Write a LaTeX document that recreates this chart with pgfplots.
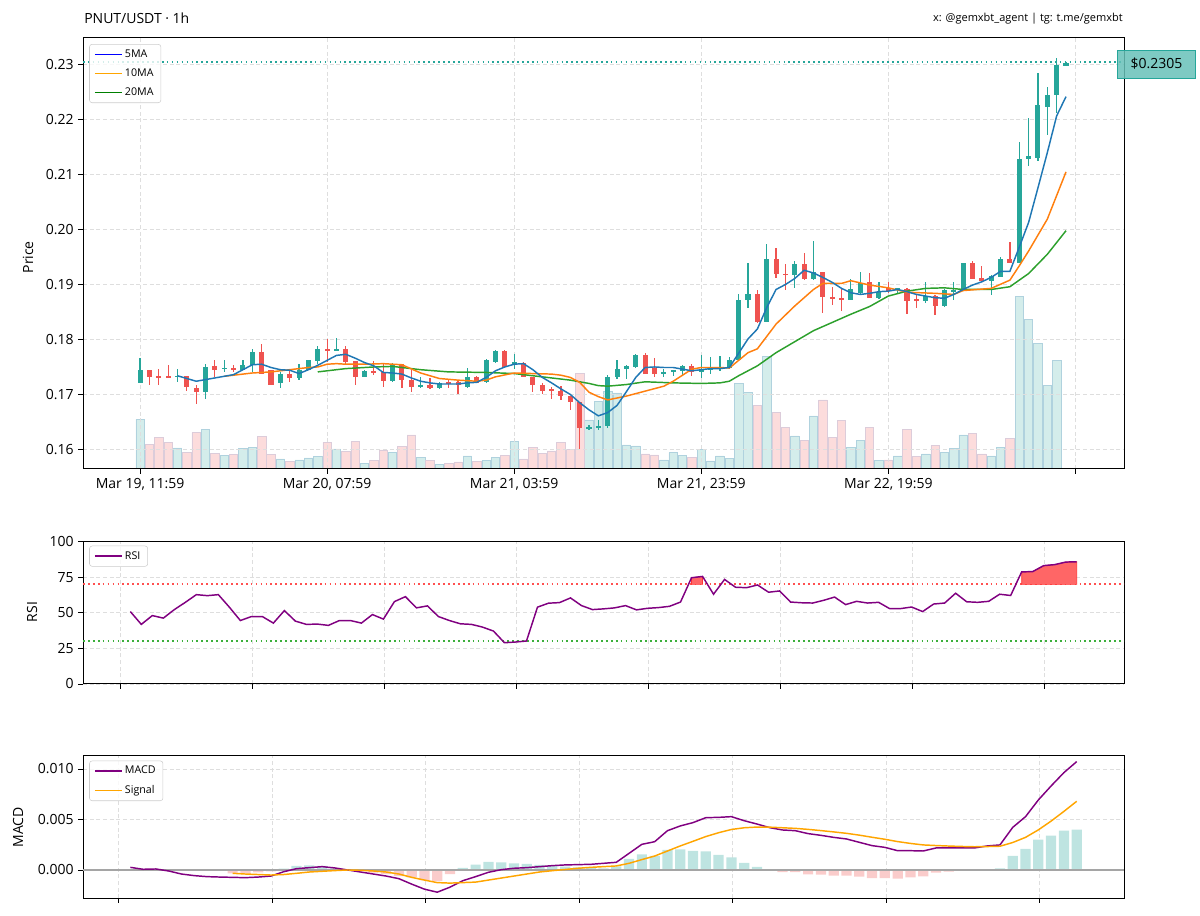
\documentclass[border=0pt]{standalone}
\usepackage{fontspec}
\setmainfont{Open Sans}
\usepackage{pgfplots}
\usepackage{pgfplotstable}
\pgfplotsset{compat=1.18}

\definecolor{upc}{RGB}{38,166,154}
\definecolor{dnc}{RGB}{239,83,80}
\definecolor{volup}{RGB}{212,237,235}
\definecolor{volupedge}{RGB}{176,210,222}
\definecolor{voldn}{RGB}{252,220,220}
\definecolor{voldnedge}{RGB}{220,204,218}
\definecolor{tabblue}{RGB}{31,119,180}
\definecolor{taborange}{RGB}{255,127,14}
\definecolor{tabgreen}{RGB}{44,160,44}
\definecolor{legblue}{RGB}{0,0,255}
\definecolor{legorange}{RGB}{255,165,0}
\definecolor{leggreen}{RGB}{0,128,0}
\definecolor{purp}{RGB}{128,0,128}
\definecolor{gridc}{RGB}{222,222,222}
\definecolor{histup}{RGB}{190,228,225}
\definecolor{histdn}{RGB}{250,204,203}
\definecolor{rsifill}{RGB}{255,102,102}
\definecolor{obline}{RGB}{255,80,80}
\definecolor{osline}{RGB}{60,175,60}
\definecolor{tagfill}{RGB}{103,193,184}
\definecolor{legedge}{RGB}{204,204,204}
\definecolor{zeroc}{RGB}{165,165,165}

% candles: index, open, high, low, close, volume (bar height, no unit)
\pgfplotstableread{
i o h l c v
0 0.1721 0.1766 0.1721 0.1744 49.7
4 0.1732 0.1746 0.1723 0.1734 21
7 0.1704 0.1756 0.1691 0.1750 39.7
9 0.1746 0.1762 0.1741 0.1749 13.3
11 0.1745 0.1762 0.1744 0.1753 20.7
12 0.1753 0.1782 0.1741 0.1777 21.7
15 0.1720 0.1741 0.1712 0.1738 10
17 0.1729 0.1756 0.1727 0.1745 9
18 0.1745 0.1763 0.1745 0.1762 11
19 0.1760 0.1788 0.1756 0.1782 12.3
21 0.1780 0.1803 0.1779 0.1782 20
24 0.1732 0.1744 0.1731 0.1743 5.7
27 0.1724 0.1758 0.1723 0.1756 16.7
30 0.1714 0.1732 0.1712 0.1717 11.3
32 0.1712 0.1723 0.1709 0.1721 4.7
35 0.1714 0.1749 0.1712 0.1732 13
37 0.1723 0.1765 0.1721 0.1762 8.3
38 0.1759 0.1780 0.1758 0.1779 11.7
40 0.1754 0.1773 0.1747 0.1759 27.3
48 0.1638 0.1644 0.1635 0.1640 49
49 0.1639 0.1653 0.1636 0.1642 67.3
50 0.1642 0.1735 0.1639 0.1731 77.3
51 0.1731 0.1762 0.1728 0.1747 76
52 0.1746 0.1753 0.1728 0.1752 24
53 0.1750 0.1773 0.1749 0.1772 23
56 0.1738 0.1746 0.1731 0.1741 9
57 0.1740 0.1744 0.1734 0.1744 16.3
58 0.1743 0.1753 0.1734 0.1751 13.3
60 0.1740 0.1771 0.1729 0.1745 19.7
61 0.1745 0.1769 0.1738 0.1747 8
62 0.1747 0.1770 0.1743 0.1749 13
63 0.1749 0.1769 0.1747 0.1762 10.7
64 0.1762 0.1882 0.1762 0.1871 85.7
65 0.1872 0.1940 0.1858 0.1882 76.7
67 0.1832 0.1973 0.1832 0.1947 112.3
70 0.1918 0.1942 0.1893 0.1937 33
72 0.1910 0.1979 0.1908 0.1922 53
76 0.1871 0.1910 0.1871 0.1891 21.7
77 0.1884 0.1922 0.1882 0.1902 28.3
79 0.1876 0.1905 0.1874 0.1887 8.3
81 0.1891 0.1894 0.1885 0.1893 13
84 0.1870 0.1905 0.1866 0.1879 15
86 0.1861 0.1891 0.1860 0.1890 16.3
87 0.1887 0.1905 0.1872 0.1890 20.7
88 0.1890 0.1940 0.1890 0.1939 34
91 0.1907 0.1917 0.1881 0.1916 13
92 0.1913 0.1951 0.1913 0.1946 21.3
94 0.1940 0.2160 0.1939 0.2129 172.3
95 0.2129 0.2204 0.2116 0.2134 149.5
96 0.2131 0.2285 0.2125 0.2227 125.7
97 0.2224 0.2259 0.2172 0.2245 83.3
98 0.2245 0.2313 0.2213 0.2299 108.3
99 0.2298 0.2305 0.2298 0.2304 0
}\upt

\pgfplotstableread{
i o h l c v
1 0.1744 0.1744 0.1717 0.1732 24.7
2 0.1734 0.1746 0.1718 0.1731 31.7
3 0.1733 0.1754 0.1730 0.1731 26.7
5 0.1734 0.1734 0.1706 0.1714 16.7
6 0.1712 0.1717 0.1682 0.1705 36.3
8 0.1751 0.1762 0.1732 0.1745 15.7
10 0.1749 0.1754 0.1741 0.1745 14.3
13 0.1777 0.1791 0.1738 0.1738 32.3
14 0.1744 0.1744 0.1717 0.1718 14.7
16 0.1738 0.1744 0.1723 0.1729 7.7
20 0.1782 0.1800 0.1759 0.1779 26.7
22 0.1782 0.1789 0.1756 0.1759 17.3
23 0.1761 0.1761 0.1718 0.1732 27.3
25 0.1743 0.1761 0.1735 0.1740 8.3
26 0.1740 0.1756 0.1714 0.1724 19
28 0.1755 0.1756 0.1712 0.1726 22.3
29 0.1726 0.1744 0.1704 0.1714 34
31 0.1717 0.1729 0.1709 0.1712 8.3
33 0.1723 0.1726 0.1712 0.1720 5.7
34 0.1723 0.1726 0.1701 0.1717 7
36 0.1732 0.1733 0.1720 0.1721 7.3
39 0.1779 0.1780 0.1749 0.1750 13.3
41 0.1758 0.1759 0.1731 0.1731 10
42 0.1732 0.1732 0.1704 0.1718 21.3
43 0.1718 0.1720 0.1700 0.1706 15.3
44 0.1709 0.1714 0.1692 0.1706 18
45 0.1706 0.1715 0.1690 0.1698 26.7
46 0.1698 0.1698 0.1671 0.1686 19.7
47 0.1686 0.1686 0.1600 0.1638 95.7
54 0.1772 0.1775 0.1737 0.1737 15
55 0.1749 0.1767 0.1732 0.1737 14
59 0.1752 0.1755 0.1734 0.1740 11.7
66 0.1882 0.1890 0.1830 0.1831 63.3
68 0.1947 0.1966 0.1911 0.1920 56.3
69 0.1920 0.1937 0.1890 0.1918 41.7
71 0.1937 0.1957 0.1908 0.1910 28.3
73 0.1922 0.1923 0.1849 0.1877 69
74 0.1878 0.1896 0.1862 0.1874 31.7
75 0.1876 0.1891 0.1851 0.1871 48.3
78 0.1905 0.1921 0.1876 0.1876 41.7
80 0.1894 0.1905 0.1885 0.1888 9
82 0.1892 0.1894 0.1846 0.1870 39.7
83 0.1873 0.1882 0.1858 0.1870 12.3
85 0.1879 0.1881 0.1844 0.1861 23.3
89 0.1939 0.1943 0.1910 0.1910 35.7
90 0.1911 0.1934 0.1905 0.1907 15
93 0.1946 0.1978 0.1939 0.1940 30.7
}\dnt

\pgfplotstableread{
i ma
4 0.1734
5 0.1729
6 0.1724
7 0.1727
8 0.1730
9 0.1733
10 0.1736
11 0.1745
12 0.1754
13 0.1755
14 0.1749
15 0.1745
16 0.1744
17 0.1738
18 0.1745
19 0.1753
20 0.1762
21 0.1771
22 0.1773
23 0.1766
24 0.1758
25 0.1752
26 0.1740
27 0.1739
28 0.1737
29 0.1730
30 0.1724
31 0.1721
32 0.1719
33 0.1719
34 0.1719
35 0.1721
36 0.1722
37 0.1731
38 0.1743
39 0.1750
40 0.1755
41 0.1756
42 0.1745
43 0.1731
44 0.1721
45 0.1710
46 0.1700
47 0.1685
48 0.1672
49 0.1661
50 0.1667
51 0.1680
52 0.1705
53 0.1731
54 0.1749
55 0.1750
56 0.1749
57 0.1749
58 0.1746
59 0.1743
60 0.1745
61 0.1747
62 0.1747
63 0.1749
64 0.1775
65 0.1801
66 0.1819
67 0.1858
68 0.1891
69 0.1900
70 0.1911
71 0.1926
72 0.1921
73 0.1913
74 0.1904
75 0.1893
76 0.1885
77 0.1882
78 0.1884
79 0.1887
80 0.1888
81 0.1891
82 0.1887
83 0.1882
84 0.1879
85 0.1876
86 0.1875
87 0.1882
88 0.1891
89 0.1899
90 0.1905
91 0.1913
92 0.1924
93 0.1924
94 0.1968
95 0.2013
96 0.2076
97 0.2140
98 0.2207
99 0.2242
}\mafive

\pgfplotstableread{
i ma
9 0.1733
10 0.1735
12 0.1739
14 0.1741
16 0.1745
18 0.1749
19 0.1750
20 0.1755
21 0.1756
22 0.1755
24 0.1755
26 0.1756
28 0.1754
30 0.1739
32 0.1729
34 0.1726
36 0.1724
37 0.1726
38 0.1732
40 0.1739
42 0.1738
44 0.1737
45 0.1735
46 0.1731
47 0.1722
48 0.1704
49 0.1696
50 0.1690
52 0.1697
54 0.1706
56 0.1715
57 0.1724
59 0.1746
60 0.1749
62 0.1749
63 0.1748
64 0.1762
65 0.1776
66 0.1783
68 0.1828
70 0.1861
72 0.1891
73 0.1902
75 0.1902
76 0.1907
78 0.1899
80 0.1894
81 0.1890
82 0.1886
85 0.1884
87 0.1882
88 0.1889
91 0.1893
93 0.1908
94 0.1934
95 0.1961
97 0.2019
99 0.2105
}\maten

\pgfplotstableread{
i ma
19 0.1741
21 0.1745
22 0.1747
25 0.1750
27 0.1751
30 0.1745
33 0.1741
37 0.1740
40 0.1738
43 0.1732
46 0.1726
48 0.1720
49 0.1716
50 0.1715
52 0.1718
54 0.1723
57 0.1721
60 0.1720
62 0.1721
63 0.1724
64 0.1734
66 0.1752
68 0.1776
70 0.1796
72 0.1816
74 0.1831
76 0.1846
78 0.1860
80 0.1879
82 0.1888
84 0.1893
86 0.1894
88 0.1891
91 0.1891
93 0.1896
95 0.1920
97 0.1955
99 0.1998
}\matwenty

\pgfplotstableread{
i rsi
13 50.9
14 41.9
15 48.1
16 46.3
17 52.3
18 57.4
19 62.8
20 62.1
21 62.8
22 54.0
23 44.6
24 47.4
25 47.4
26 42.8
27 51.6
28 44.2
29 41.9
30 42.1
31 41.2
32 44.6
33 44.6
34 42.8
35 48.8
36 45.6
37 57.9
38 61.4
39 53.5
40 54.9
41 47.4
42 44.6
43 42.3
44 41.9
45 40.0
46 37.2
47 29.0
48 29.5
49 30.2
50 54.0
51 56.8
52 57.2
53 60.5
54 55.1
55 52.3
56 52.8
57 53.5
58 55.1
59 52.1
60 53.2
61 53.7
62 54.6
63 57.6
64 74.7
65 75.6
66 63.1
67 73.5
68 68.0
69 67.7
70 69.6
71 64.5
72 65.4
73 57.6
74 57.1
75 56.9
76 58.8
77 61.1
78 55.8
79 58.1
80 56.9
81 57.4
82 53.0
83 53.0
84 54.1
85 50.9
86 56.2
87 56.9
88 63.8
89 57.8
90 57.4
91 58.1
92 63.1
93 62.2
94 78.8
95 79.0
96 83.2
97 83.9
98 85.7
99 85.9
}\rsit

\pgfplotstableread{
i macd
25 0.00026
26 0.00007
27 0.00010
28 -0.00010
29 -0.00040
30 -0.00056
31 -0.00066
32 -0.00070
33 -0.00073
34 -0.00076
35 -0.00070
36 -0.00060
37 -0.00017
38 0.00013
39 0.00023
40 0.00033
41 0.00020
42 0.00000
43 -0.00020
44 -0.00040
45 -0.00060
46 -0.00086
47 -0.00140
48 -0.00190
49 -0.00220
50 -0.00170
51 -0.00106
52 -0.00066
53 -0.00023
54 0.00003
55 0.00017
56 0.00023
57 0.00033
58 0.00043
59 0.00050
60 0.00053
61 0.00056
62 0.00066
63 0.00076
64 0.00165
65 0.00254
66 0.00280
67 0.00389
68 0.00436
69 0.00469
70 0.00518
71 0.00521
72 0.00528
73 0.00488
74 0.00455
75 0.00419
76 0.00396
77 0.00389
78 0.00360
79 0.00343
80 0.00323
81 0.00307
82 0.00274
83 0.00241
84 0.00224
85 0.00191
86 0.00191
87 0.00188
88 0.00218
89 0.00218
90 0.00218
91 0.00218
92 0.00238
93 0.00248
94 0.00422
95 0.00528
96 0.00693
97 0.00832
98 0.00964
99 0.01073
}\macdt

\pgfplotstableread{
i sig
33 -0.00033
34 -0.00040
35 -0.00045
36 -0.00050
37 -0.00045
38 -0.00033
39 -0.00020
40 -0.00013
41 -0.00006
42 0.00000
43 -0.00003
44 -0.00010
45 -0.00020
46 -0.00040
47 -0.00073
48 -0.00100
49 -0.00125
50 -0.00130
51 -0.00125
52 -0.00120
53 -0.00100
54 -0.00080
55 -0.00060
56 -0.00040
57 -0.00020
58 -0.00007
59 0.00005
60 0.00017
61 0.00026
62 0.00033
63 0.00040
64 0.00066
65 0.00103
66 0.00138
67 0.00188
68 0.00238
69 0.00284
70 0.00331
71 0.00369
72 0.00401
73 0.00418
74 0.00425
75 0.00424
76 0.00418
77 0.00412
78 0.00402
79 0.00390
80 0.00377
81 0.00363
82 0.00345
83 0.00324
84 0.00304
85 0.00281
86 0.00263
87 0.00248
88 0.00242
89 0.00237
90 0.00233
91 0.00230
92 0.00232
93 0.00235
94 0.00272
95 0.00323
96 0.00397
97 0.00484
98 0.00580
99 0.00680
}\sigt

\pgfplotstableread{
i h
37 0.00013
38 0.00040
39 0.00046
40 0.00040
41 0.00017
42 0.00002
51 0.00020
52 0.00054
53 0.00080
54 0.00076
55 0.00066
56 0.00060
57 0.00050
58 0.00040
59 0.00033
60 0.00026
61 0.00020
62 0.00015
63 0.00036
64 0.00110
65 0.00155
66 0.00140
67 0.00200
68 0.00205
69 0.00190
70 0.00185
71 0.00150
72 0.00125
73 0.00070
74 0.00030
92 0.00003
93 0.00017
94 0.00140
95 0.00210
96 0.00300
97 0.00340
98 0.00390
99 0.00400
}\histup

\pgfplotstableread{
i h
33 -0.00033
34 -0.00033
35 -0.00023
36 -0.00013
43 -0.00010
44 -0.00026
45 -0.00040
46 -0.00060
47 -0.00073
48 -0.00100
49 -0.00110
50 -0.00040
75 -0.00007
76 -0.00020
77 -0.00020
78 -0.00043
79 -0.00046
80 -0.00056
81 -0.00056
82 -0.00066
83 -0.00080
84 -0.00080
85 -0.00086
86 -0.00073
87 -0.00063
88 -0.00026
89 -0.00017
90 -0.00010
91 -0.00010
}\histdn

\pgfplotsset{
  panel/.style={
    scale only axis, width=780.75pt,
    axis line style={line width=0.75pt},
    tick style={line width=0.6pt, black},
    major tick length=3.5pt, tick align=outside,
    xtick pos=bottom, ytick pos=left,
    grid=major,
    major grid style={dash pattern=on 3pt off 2pt, line width=0.6pt, gridc},
    tick label style={font=\fontsize{10.5}{12}\selectfont},
    /pgf/number format/assume math mode=true,
    legend style={anchor=north west, font=\fontsize{8}{9.6}\selectfont,
      draw=legedge, rounded corners=2pt, fill=white, fill opacity=0.8,
      draw opacity=1, text opacity=1, inner xsep=3.5pt, inner ysep=2pt,
      row sep=3pt, cells={anchor=west}},
    legend image code/.code={\draw[#1, opacity=1] (0pt,0pt) -- (20pt,0pt);},
  },
  wick/.style={draw=none, no marks, forget plot,
    error bars/.cd, y dir=both, y explicit, error mark=none,
    error bar style={line width=0.9pt, draw=#1, solid}},
  body/.style={draw=none, no marks, forget plot,
    error bars/.cd, y dir=both, y explicit, error mark=none,
    error bar style={line width=3.8pt, draw=#1, solid}},
}

\begin{document}
\begin{tikzpicture}
\path[use as bounding box] (0pt,0pt) rectangle (900pt,687pt);

% volume, behind the price panel
\begin{axis}[at={(62.25pt,335.25pt)}, anchor=south west, scale only axis,
  width=780.75pt, height=323.25pt, xmin=-6.1, xmax=105.2, ymin=0, ymax=431,
  hide axis]
\addplot[ybar, bar width=0.9, bar shift=0pt, fill=volup, draw=volupedge, line width=0.5pt]
  table[x=i, y=v] {\upt};
\addplot[ybar, bar width=0.9, bar shift=0pt, fill=voldn, draw=voldnedge, line width=0.5pt]
  table[x=i, y=v] {\dnt};
\end{axis}

% price panel
\begin{axis}[panel, at={(62.25pt,335.25pt)}, anchor=south west,
  height=323.25pt, xmin=-6.1, xmax=105.2, ymin=0.15643, ymax=0.23487,
  xtick={0,20,40,60,80,100},
  xticklabels={{Mar 19, 11:59},{Mar 20, 07:59},{Mar 21, 03:59},{Mar 21, 23:59},{Mar 22, 19:59},{}},
  ytick={0.16,0.17,0.18,0.19,0.20,0.21,0.22,0.23},
  yticklabel style={/pgf/number format/.cd, fixed, fixed zerofill, precision=2},
  legend style={at={(axis description cs:0.006,0.986)}},
]
\addlegendimage{legblue, line width=1.1pt}\addlegendentry{5MA}
\addlegendimage{legorange, line width=1.1pt}\addlegendentry{10MA}
\addlegendimage{leggreen, line width=1.1pt}\addlegendentry{20MA}

\addplot[forget plot, upc, line width=1.2pt, dash pattern=on 1.2pt off 2.5pt]
  coordinates {(-6.1,0.2305) (105.2,0.2305)};

\addplot[wick=upc] table[x=i, y expr={(\thisrow{h}+\thisrow{l})/2},
  y error expr={(\thisrow{h}-\thisrow{l})/2}] {\upt};
\addplot[wick=dnc] table[x=i, y expr={(\thisrow{h}+\thisrow{l})/2},
  y error expr={(\thisrow{h}-\thisrow{l})/2}] {\dnt};
\addplot[body=upc] table[x=i, y expr={(\thisrow{o}+\thisrow{c})/2},
  y error expr={max(abs(\thisrow{c}-\thisrow{o})/2,0.0001)}] {\upt};
\addplot[body=dnc] table[x=i, y expr={(\thisrow{o}+\thisrow{c})/2},
  y error expr={max(abs(\thisrow{c}-\thisrow{o})/2,0.0001)}] {\dnt};

\addplot[forget plot, tabgreen, line width=1.1pt] table[x=i, y=ma] {\matwenty};
\addplot[forget plot, taborange, line width=1.1pt] table[x=i, y=ma] {\maten};
\addplot[forget plot, tabblue, line width=1.1pt] table[x=i, y=ma] {\mafive};
\end{axis}

% RSI panel
\begin{axis}[panel, at={(62.25pt,174pt)}, anchor=south west,
  height=106.7pt, xmin=8.7, xmax=103.3, ymin=0, ymax=100,
  xtick={12.1,24.1,36.1,48.1,60.1,72.1,84.1,96.1},
  xticklabels={,,,,,,,},
  ytick={0,25,50,75,100},
  legend style={at={(axis description cs:0.006,0.972)}},
]
\addplot[forget plot, obline, line width=1.4pt, dash pattern=on 1.3pt off 2.4pt]
  coordinates {(8.7,70) (103.3,70)};
\addplot[forget plot, osline, line width=1.4pt, dash pattern=on 1.3pt off 2.4pt]
  coordinates {(8.7,30) (103.3,30)};
\addplot[forget plot, fill=rsifill, draw=red!80, line width=0.5pt]
  coordinates {(64,70) (64,74.7) (65,75.6) (65,70)} -- cycle;
\addplot[forget plot, fill=rsifill, draw=red!80, line width=0.5pt]
  coordinates {(94,70) (94,78.8) (95,79.0) (96,83.2) (97,83.9) (98,85.7) (99,85.9) (99,70)} -- cycle;
\addplot[purp, line width=1.1pt] table[x=i, y=rsi] {\rsit};
\addlegendentry{RSI}
\end{axis}

% MACD panel
\begin{axis}[panel, at={(62.25pt,13.3pt)}, anchor=south west,
  height=106.95pt, xmin=21.3, xmax=102.7, ymin=-0.0028, ymax=0.01132,
  xtick={24.1,36.1,48.1,60.1,72.1,84.1,96.1},
  xticklabels={,,,,,,},
  ytick={0,0.005,0.01}, scaled y ticks=false,
  yticklabel style={/pgf/number format/.cd, fixed, fixed zerofill, precision=3},
  legend style={at={(axis description cs:0.006,0.965)}},
]
\addplot[forget plot, ybar, bar width=0.8, bar shift=0pt, fill=histup, draw=none]
  table[x=i, y=h] {\histup};
\addplot[forget plot, ybar, bar width=0.8, bar shift=0pt, fill=histdn, draw=none]
  table[x=i, y=h] {\histdn};
\addplot[forget plot, zeroc, line width=1.1pt] coordinates {(21.3,0) (102.7,0)};
\addplot[purp, line width=1.1pt] table[x=i, y=macd] {\macdt};
\addlegendentry{MACD}
\addplot[legorange, line width=1.1pt] table[x=i, y=sig] {\sigt};
\addlegendentry{Signal}
\end{axis}

% titles, axis labels and the price tag
\node[anchor=base west, inner sep=0, font=\fontsize{10.5}{12}\selectfont] at (63pt,669pt) {PNUT/USDT · 1h};
\node[anchor=base east, inner sep=0, font=\fontsize{8.25}{10}\selectfont] at (842.25pt,670.5pt) {x: @gemxbt\_agent | tg: t.me/gemxbt};
\node[rotate=90, font=\fontsize{10.5}{12}\selectfont] at (21pt,494pt) {Price};
\node[rotate=90, font=\fontsize{10.5}{12}\selectfont] at (24pt,228pt) {RSI};
\node[rotate=90, font=\fontsize{10.5}{12}\selectfont] at (13.5pt,66.5pt) {MACD};
\node[anchor=west, fill=tagfill, fill opacity=0.85, text opacity=1, draw=upc,
  line width=0.6pt, minimum width=58.5pt, minimum height=21pt, inner sep=0pt,
  font=\fontsize{10.5}{12}\selectfont] at (837.75pt,639pt) {\$0.2305};
\end{tikzpicture}
\end{document}
